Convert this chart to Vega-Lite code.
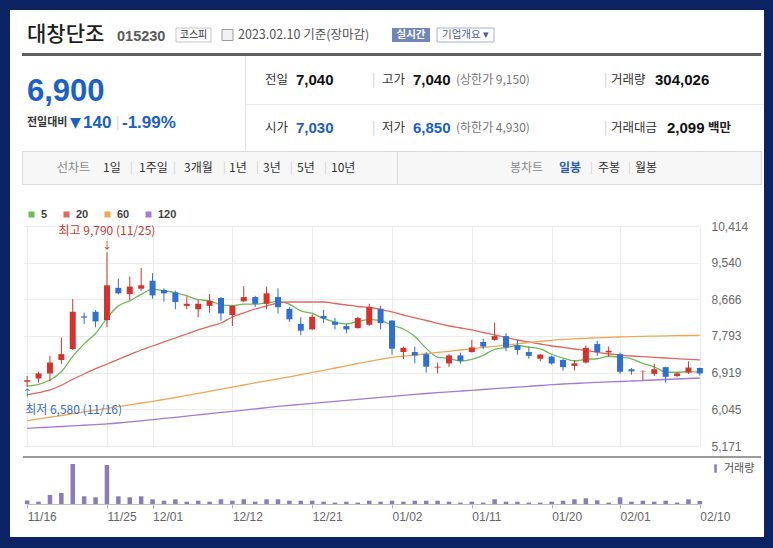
{
"$schema":"https://vega.github.io/schema/vega-lite/v6.json",
"background":"white",
"padding":0,
"config":{"view":{"stroke":null},"text":{"font":"Noto Sans CJK KR"},"axis":{"labelFont":"Liberation Sans"},"legend":{"padding":0}},
"datasets":{"px":[
{"d":"11/16","o":6700,"h":6840,"l":6580,"c":6740,"v":340000,"ma5":6600,"ma20":6394,"ma60":5774,"ma120":5593},
{"d":"11/17","o":6780,"h":6940,"l":6680,"c":6900,"v":240000,"ma5":6642,"ma20":6442,"ma60":5815,"ma120":5607},
{"d":"11/18","o":6900,"h":7320,"l":6710,"c":7160,"v":900000,"ma5":6744,"ma20":6506,"ma60":5858,"ma120":5622},
{"d":"11/21","o":7220,"h":7760,"l":7130,"c":7360,"v":1100000,"ma5":6942,"ma20":6618,"ma60":5898,"ma120":5636},
{"d":"11/22","o":7480,"h":8670,"l":7460,"c":8370,"v":4000000,"ma5":7306,"ma20":6761,"ma60":5941,"ma120":5650},
{"d":"11/23","o":8260,"h":8350,"l":8080,"c":8230,"v":770000,"ma5":7604,"ma20":6887,"ma60":5982,"ma120":5665},
{"d":"11/24","o":8370,"h":8410,"l":8000,"c":8140,"v":670000,"ma5":7852,"ma20":7013,"ma60":6025,"ma120":5679},
{"d":"11/25","o":8170,"h":9790,"l":8010,"c":9000,"v":3900000,"ma5":8220,"ma20":7125,"ma60":6067,"ma120":5696},
{"d":"11/28","o":8940,"h":9160,"l":8790,"c":8810,"v":770000,"ma5":8510,"ma20":7237,"ma60":6110,"ma120":5719},
{"d":"11/29","o":8790,"h":9210,"l":8650,"c":8970,"v":670000,"ma5":8630,"ma20":7347,"ma60":6153,"ma120":5746},
{"d":"11/30","o":8920,"h":9410,"l":8870,"c":9000,"v":770000,"ma5":8784,"ma20":7459,"ma60":6196,"ma120":5772},
{"d":"12/01","o":9110,"h":9290,"l":8680,"c":8760,"v":470000,"ma5":8908,"ma20":7554,"ma60":6237,"ma120":5798},
{"d":"12/02","o":8890,"h":8930,"l":8610,"c":8810,"v":330000,"ma5":8870,"ma20":7650,"ma60":6279,"ma120":5827},
{"d":"12/05","o":8830,"h":8870,"l":8430,"c":8600,"v":470000,"ma5":8828,"ma20":7745,"ma60":6327,"ma120":5855},
{"d":"12/06","o":8510,"h":8730,"l":8430,"c":8560,"v":230000,"ma5":8746,"ma20":7840,"ma60":6375,"ma120":5884},
{"d":"12/07","o":8430,"h":8650,"l":8240,"c":8560,"v":330000,"ma5":8658,"ma20":7936,"ma60":6425,"ma120":5913},
{"d":"12/08","o":8510,"h":8790,"l":8350,"c":8630,"v":230000,"ma5":8632,"ma20":8019,"ma60":6475,"ma120":5941},
{"d":"12/09","o":8700,"h":8720,"l":8160,"c":8330,"v":470000,"ma5":8536,"ma20":8102,"ma60":6525,"ma120":5970},
{"d":"12/12","o":8290,"h":8530,"l":8030,"c":8510,"v":330000,"ma5":8518,"ma20":8245,"ma60":6575,"ma120":5998},
{"d":"12/13","o":8620,"h":8980,"l":8600,"c":8720,"v":470000,"ma5":8550,"ma20":8341,"ma60":6625,"ma120":6027},
{"d":"12/14","o":8720,"h":8750,"l":8480,"c":8560,"v":230000,"ma5":8550,"ma20":8436,"ma60":6675,"ma120":6055},
{"d":"12/15","o":8560,"h":8970,"l":8430,"c":8810,"v":470000,"ma5":8586,"ma20":8508,"ma60":6723,"ma120":6084},
{"d":"12/16","o":8720,"h":8930,"l":8330,"c":8480,"v":470000,"ma5":8616,"ma20":8579,"ma60":6773,"ma120":6113},
{"d":"12/19","o":8440,"h":8480,"l":8130,"c":8190,"v":330000,"ma5":8552,"ma20":8603,"ma60":6820,"ma120":6139},
{"d":"12/20","o":8080,"h":8240,"l":7810,"c":7920,"v":330000,"ma5":8392,"ma20":8603,"ma60":6870,"ma120":6163},
{"d":"12/21","o":7950,"h":8310,"l":7940,"c":8250,"v":330000,"ma5":8330,"ma20":8603,"ma60":6923,"ma120":6187},
{"d":"12/22","o":8270,"h":8410,"l":8100,"c":8210,"v":230000,"ma5":8210,"ma20":8603,"ma60":6975,"ma120":6210},
{"d":"12/23","o":8130,"h":8220,"l":7950,"c":8060,"v":140000,"ma5":8126,"ma20":8567,"ma60":7030,"ma120":6234},
{"d":"12/26","o":8030,"h":8080,"l":7860,"c":7950,"v":230000,"ma5":8078,"ma20":8531,"ma60":7083,"ma120":6258},
{"d":"12/27","o":7980,"h":8250,"l":7970,"c":8220,"v":140000,"ma5":8138,"ma20":8496,"ma60":7137,"ma120":6282},
{"d":"12/28","o":8060,"h":8560,"l":8030,"c":8480,"v":330000,"ma5":8184,"ma20":8472,"ma60":7190,"ma120":6306},
{"d":"12/29","o":8440,"h":8510,"l":7950,"c":8100,"v":230000,"ma5":8162,"ma20":8429,"ma60":7237,"ma120":6330},
{"d":"01/02","o":8160,"h":8170,"l":7350,"c":7490,"v":330000,"ma5":8048,"ma20":8365,"ma60":7285,"ma120":6353},
{"d":"01/03","o":7410,"h":7540,"l":7240,"c":7510,"v":230000,"ma5":7960,"ma20":8293,"ma60":7314,"ma120":6377},
{"d":"01/04","o":7410,"h":7540,"l":7140,"c":7330,"v":330000,"ma5":7782,"ma20":8222,"ma60":7340,"ma120":6401},
{"d":"01/05","o":7360,"h":7410,"l":6920,"c":7060,"v":330000,"ma5":7498,"ma20":8162,"ma60":7369,"ma120":6422},
{"d":"01/06","o":7040,"h":7160,"l":6900,"c":7060,"v":330000,"ma5":7290,"ma20":8091,"ma60":7400,"ma120":6442},
{"d":"01/09","o":7140,"h":7360,"l":7050,"c":7330,"v":230000,"ma5":7258,"ma20":8031,"ma60":7428,"ma120":6461},
{"d":"01/10","o":7330,"h":7400,"l":7130,"c":7200,"v":140000,"ma5":7196,"ma20":7983,"ma60":7459,"ma120":6480},
{"d":"01/11","o":7410,"h":7700,"l":7400,"c":7520,"v":230000,"ma5":7234,"ma20":7936,"ma60":7488,"ma120":6499},
{"d":"01/12","o":7650,"h":7730,"l":7480,"c":7540,"v":140000,"ma5":7330,"ma20":7876,"ma60":7519,"ma120":6518},
{"d":"01/13","o":7700,"h":8110,"l":7680,"c":7790,"v":470000,"ma5":7476,"ma20":7817,"ma60":7547,"ma120":6537},
{"d":"01/16","o":7790,"h":7860,"l":7430,"c":7520,"v":230000,"ma5":7514,"ma20":7757,"ma60":7578,"ma120":6556},
{"d":"01/17","o":7570,"h":7700,"l":7350,"c":7460,"v":230000,"ma5":7566,"ma20":7697,"ma60":7607,"ma120":6575},
{"d":"01/18","o":7410,"h":7540,"l":7250,"c":7320,"v":140000,"ma5":7526,"ma20":7650,"ma60":7638,"ma120":6594},
{"d":"01/19","o":7250,"h":7360,"l":7190,"c":7350,"v":140000,"ma5":7488,"ma20":7602,"ma60":7664,"ma120":6613},
{"d":"01/20","o":7300,"h":7330,"l":7110,"c":7140,"v":230000,"ma5":7358,"ma20":7554,"ma60":7690,"ma120":6632},
{"d":"01/25","o":7220,"h":7250,"l":6970,"c":7050,"v":330000,"ma5":7264,"ma20":7523,"ma60":7709,"ma120":6649},
{"d":"01/26","o":7080,"h":7220,"l":6970,"c":7140,"v":470000,"ma5":7200,"ma20":7483,"ma60":7726,"ma120":6661},
{"d":"01/27","o":7160,"h":7570,"l":7140,"c":7510,"v":570000,"ma5":7238,"ma20":7447,"ma60":7738,"ma120":6673},
{"d":"01/30","o":7600,"h":7680,"l":7320,"c":7410,"v":370000,"ma5":7250,"ma20":7400,"ma60":7750,"ma120":6685},
{"d":"01/31","o":7400,"h":7540,"l":7300,"c":7440,"v":140000,"ma5":7310,"ma20":7364,"ma60":7759,"ma120":6697},
{"d":"02/01","o":7360,"h":7400,"l":6890,"c":6940,"v":670000,"ma5":7288,"ma20":7340,"ma60":7769,"ma120":6708},
{"d":"02/02","o":7000,"h":7030,"l":6870,"c":6950,"v":230000,"ma5":7250,"ma20":7316,"ma60":7776,"ma120":6720},
{"d":"02/03","o":6950,"h":6970,"l":6730,"c":6960,"v":330000,"ma5":7140,"ma20":7299,"ma60":7783,"ma120":6732},
{"d":"02/06","o":6890,"h":7130,"l":6840,"c":7000,"v":230000,"ma5":7058,"ma20":7285,"ma60":7790,"ma120":6744},
{"d":"02/07","o":7050,"h":7060,"l":6680,"c":6820,"v":330000,"ma5":6934,"ma20":7268,"ma60":7795,"ma120":6756},
{"d":"02/08","o":6840,"h":6940,"l":6810,"c":6900,"v":140000,"ma5":6926,"ma20":7252,"ma60":7800,"ma120":6768},
{"d":"02/09","o":6920,"h":7190,"l":6890,"c":7040,"v":470000,"ma5":6944,"ma20":7237,"ma60":7805,"ma120":6780},
{"d":"02/10","o":7030,"h":7040,"l":6850,"c":6900,"v":304026,"ma5":6932,"ma20":7221,"ma60":7809,"ma120":6792}
]},
"spacing":0,
"vconcat":[
{"width":773,"height":10,"data":{"values":[{}]},"mark":{"type":"rect","color":"#0b2263"},"encoding":{}},
{"spacing":0,"hconcat":[
{"width":10,"height":527,"data":{"values":[{}]},"mark":{"type":"rect","color":"#0b2263"},"encoding":{}},
{"spacing":0,"vconcat":[
{"spacing":0,"vconcat":[
{"width":754,"height":11,"data":{"values":[{}]},"mark":{"type":"rect","opacity":0},"encoding":{}},
{"spacing":0,"bounds":"flush","hconcat":[
{"width":17,"height":28,"data":{"values":[{}]},"mark":{"type":"rect","opacity":0},"encoding":{}},
{"width":90,"height":28,"data":{"values":[{"k":"k","t":"대창단조"}]},"mark":{"type":"text","align":"left","fontSize":21,"fontWeight":500,"color":"#1e1e1e"},"encoding":{"x":{"field":"k","type":"nominal","axis":null,"scale":{"type":"band","paddingInner":0,"paddingOuter":0},"bandPosition":0},"text":{"field":"t"}}},
{"width":59,"height":28,"data":{"values":[{"k":"k","t":"015230"}]},"mark":{"type":"text","align":"left","font":"Liberation Sans","fontSize":14.5,"fontWeight":"bold","color":"#5a5a5a","dy":2},"encoding":{"x":{"field":"k","type":"nominal","axis":null,"scale":{"type":"band","paddingInner":0,"paddingOuter":0},"bandPosition":0},"text":{"field":"t"}}},
{"width":35,"height":28,"data":{"values":[{"k":"k","t":"코스피"}]},"layer":[{"mark":{"type":"rect","fill":"#ffffff","stroke":"#c4c4c4","strokeWidth":1},"encoding":{"y":{"field":"k","type":"nominal","axis":null,"scale":{"paddingInner":0,"paddingOuter":0.5}}}},{"mark":{"type":"text","fontSize":10,"color":"#333333"},"encoding":{"text":{"field":"t"}}}]},
{"width":11,"height":28,"data":{"values":[{}]},"mark":{"type":"rect","opacity":0},"encoding":{}},
{"width":11,"height":28,"data":{"values":[{"k":"k"}]},"mark":{"type":"rect","fill":"#f2f2f2","stroke":"#9c9c9c","strokeWidth":1},"encoding":{"y":{"field":"k","type":"nominal","axis":null,"scale":{"paddingInner":0,"paddingOuter":0.77}}}},
{"width":5,"height":28,"data":{"values":[{}]},"mark":{"type":"rect","opacity":0},"encoding":{}},
{"width":154,"height":28,"data":{"values":[{"k":"k","t":"2023.02.10 기준(장마감)"}]},"mark":{"type":"text","align":"left","fontSize":12.5,"color":"#555555"},"encoding":{"x":{"field":"k","type":"nominal","axis":null,"scale":{"type":"band","paddingInner":0,"paddingOuter":0},"bandPosition":0},"text":{"field":"t"}}},
{"width":38,"height":28,"data":{"values":[{"k":"k","t":"실시간"}]},"layer":[{"mark":{"type":"rect","fill":"#7186bf"},"encoding":{"y":{"field":"k","type":"nominal","axis":null,"scale":{"paddingInner":0,"paddingOuter":0.5}}}},{"mark":{"type":"text","fontSize":10.5,"fontWeight":"bold","color":"#ffffff"},"encoding":{"text":{"field":"t"}}}]},
{"width":7,"height":28,"data":{"values":[{}]},"mark":{"type":"rect","opacity":0},"encoding":{}},
{"width":57,"height":28,"data":{"values":[{"k":"k","t":"기업개요 ▾"}]},"layer":[{"mark":{"type":"rect","fill":"#ffffff","stroke":"#a5b0d2","strokeWidth":1},"encoding":{"y":{"field":"k","type":"nominal","axis":null,"scale":{"paddingInner":0,"paddingOuter":0.5}}}},{"mark":{"type":"text","fontSize":10.5,"color":"#4a5b93"},"encoding":{"text":{"field":"t"}}}]}
]},
{"width":754,"height":4,"data":{"values":[{}]},"mark":{"type":"rect","opacity":0},"encoding":{}}
]},
{"spacing":0,"bounds":"flush","hconcat":[
{"width":12,"height":3,"data":{"values":[{}]},"mark":{"type":"rect","opacity":0},"encoding":{}},
{"width":739,"height":3,"data":{"values":[{}]},"mark":{"type":"rect","color":"#5e5e5e"},"encoding":{}}
]},
{"spacing":0,"hconcat":[
{"spacing":0,"vconcat":[
{"width":235,"height":19,"data":{"values":[{}]},"mark":{"type":"rect","opacity":0},"encoding":{}},
{"spacing":0,"bounds":"flush","hconcat":[
{"width":17,"height":34,"data":{"values":[{}]},"mark":{"type":"rect","opacity":0},"encoding":{}},
{"width":218,"height":34,"data":{"values":[{"k":"k","t":"6,900"}]},"mark":{"type":"text","align":"left","font":"Liberation Sans","fontSize":31,"fontWeight":"bold","color":"#1b5fc8"},"encoding":{"x":{"field":"k","type":"nominal","axis":null,"scale":{"type":"band","paddingInner":0,"paddingOuter":0},"bandPosition":0},"text":{"field":"t"}}}
]},
{"spacing":0,"bounds":"flush","hconcat":[
{"width":17,"height":28,"data":{"values":[{}]},"mark":{"type":"rect","opacity":0},"encoding":{}},
{"width":43,"height":28,"data":{"values":[{"k":"k","t":"전일대비"}]},"mark":{"type":"text","align":"left","fontSize":11,"fontWeight":"bold","color":"#333333"},"encoding":{"x":{"field":"k","type":"nominal","axis":null,"scale":{"type":"band","paddingInner":0,"paddingOuter":0},"bandPosition":0},"text":{"field":"t"}}},
{"width":13,"height":28,"data":{"values":[{"k":"k","t":"▼"}]},"mark":{"type":"text","align":"left","font":"DejaVu Sans","fontSize":14,"color":"#1b5fc8"},"encoding":{"x":{"field":"k","type":"nominal","axis":null,"scale":{"type":"band","paddingInner":0,"paddingOuter":0},"bandPosition":0},"text":{"field":"t"}}},
{"width":33,"height":28,"data":{"values":[{"k":"k","t":"140"}]},"mark":{"type":"text","align":"left","font":"Liberation Sans","fontSize":17,"fontWeight":"bold","color":"#1b5fc8"},"encoding":{"x":{"field":"k","type":"nominal","axis":null,"scale":{"type":"band","paddingInner":0,"paddingOuter":0},"bandPosition":0},"text":{"field":"t"}}},
{"width":6,"height":28,"data":{"values":[{"k":"k","t":"|"}]},"mark":{"type":"text","align":"left","fontSize":13,"color":"#d0d0d0"},"encoding":{"x":{"field":"k","type":"nominal","axis":null,"scale":{"type":"band","paddingInner":0,"paddingOuter":0},"bandPosition":0},"text":{"field":"t"}}},
{"width":123,"height":28,"data":{"values":[{"k":"k","t":"-1.99%"}]},"mark":{"type":"text","align":"left","font":"Liberation Sans","fontSize":17,"fontWeight":"bold","color":"#1b5fc8"},"encoding":{"x":{"field":"k","type":"nominal","axis":null,"scale":{"type":"band","paddingInner":0,"paddingOuter":0},"bandPosition":0},"text":{"field":"t"}}}
]},
{"width":235,"height":14,"data":{"values":[{}]},"mark":{"type":"rect","opacity":0},"encoding":{}}
]},
{"width":1,"height":95,"data":{"values":[{}]},"mark":{"type":"rect","color":"#e4e4e4"},"encoding":{}},
{"spacing":0,"vconcat":[
{"spacing":0,"bounds":"flush","hconcat":[
{"width":19,"height":48,"data":{"values":[{}]},"mark":{"type":"rect","opacity":0},"encoding":{}},
{"width":31,"height":48,"data":{"values":[{"k":"k","t":"전일"}]},"mark":{"type":"text","align":"left","fontSize":12.5,"color":"#333333"},"encoding":{"x":{"field":"k","type":"nominal","axis":null,"scale":{"type":"band","paddingInner":0,"paddingOuter":0},"bandPosition":0},"text":{"field":"t"}}},
{"width":76,"height":48,"data":{"values":[{"k":"k","t":"7,040"}]},"mark":{"type":"text","align":"left","font":"Liberation Sans","fontSize":15,"fontWeight":"bold","color":"#111111"},"encoding":{"x":{"field":"k","type":"nominal","axis":null,"scale":{"type":"band","paddingInner":0,"paddingOuter":0},"bandPosition":0},"text":{"field":"t"}}},
{"width":10,"height":48,"data":{"values":[{"k":"k","t":"|"}]},"mark":{"type":"text","align":"left","fontSize":13,"color":"#d5d5d5"},"encoding":{"x":{"field":"k","type":"nominal","axis":null,"scale":{"type":"band","paddingInner":0,"paddingOuter":0},"bandPosition":0},"text":{"field":"t"}}},
{"width":31,"height":48,"data":{"values":[{"k":"k","t":"고가"}]},"mark":{"type":"text","align":"left","fontSize":12.5,"color":"#333333"},"encoding":{"x":{"field":"k","type":"nominal","axis":null,"scale":{"type":"band","paddingInner":0,"paddingOuter":0},"bandPosition":0},"text":{"field":"t"}}},
{"width":43,"height":48,"data":{"values":[{"k":"k","t":"7,040"}]},"mark":{"type":"text","align":"left","font":"Liberation Sans","fontSize":15,"fontWeight":"bold","color":"#111111"},"encoding":{"x":{"field":"k","type":"nominal","axis":null,"scale":{"type":"band","paddingInner":0,"paddingOuter":0},"bandPosition":0},"text":{"field":"t"}}},
{"width":148,"height":48,"data":{"values":[{"k":"k","t":"(상한가 9,150)"}]},"mark":{"type":"text","align":"left","fontSize":12,"color":"#777777"},"encoding":{"x":{"field":"k","type":"nominal","axis":null,"scale":{"type":"band","paddingInner":0,"paddingOuter":0},"bandPosition":0},"text":{"field":"t"}}},
{"width":7,"height":48,"data":{"values":[{"k":"k","t":"|"}]},"mark":{"type":"text","align":"left","fontSize":13,"color":"#d5d5d5"},"encoding":{"x":{"field":"k","type":"nominal","axis":null,"scale":{"type":"band","paddingInner":0,"paddingOuter":0},"bandPosition":0},"text":{"field":"t"}}},
{"width":44,"height":48,"data":{"values":[{"k":"k","t":"거래량"}]},"mark":{"type":"text","align":"left","fontSize":12.5,"color":"#333333"},"encoding":{"x":{"field":"k","type":"nominal","axis":null,"scale":{"type":"band","paddingInner":0,"paddingOuter":0},"bandPosition":0},"text":{"field":"t"}}},
{"width":109,"height":48,"data":{"values":[{"k":"k","t":"304,026"}]},"mark":{"type":"text","align":"left","font":"Liberation Sans","fontSize":15,"fontWeight":"bold","color":"#111111"},"encoding":{"x":{"field":"k","type":"nominal","axis":null,"scale":{"type":"band","paddingInner":0,"paddingOuter":0},"bandPosition":0},"text":{"field":"t"}}}
]},
{"width":518,"height":1,"data":{"values":[{}]},"mark":{"type":"rect","color":"#ebebeb"},"encoding":{}},
{"spacing":0,"bounds":"flush","hconcat":[
{"width":19,"height":46,"data":{"values":[{}]},"mark":{"type":"rect","opacity":0},"encoding":{}},
{"width":31,"height":46,"data":{"values":[{"k":"k","t":"시가"}]},"mark":{"type":"text","align":"left","fontSize":12.5,"color":"#333333"},"encoding":{"x":{"field":"k","type":"nominal","axis":null,"scale":{"type":"band","paddingInner":0,"paddingOuter":0},"bandPosition":0},"text":{"field":"t"}}},
{"width":76,"height":46,"data":{"values":[{"k":"k","t":"7,030"}]},"mark":{"type":"text","align":"left","font":"Liberation Sans","fontSize":15,"fontWeight":"bold","color":"#1b5fc8"},"encoding":{"x":{"field":"k","type":"nominal","axis":null,"scale":{"type":"band","paddingInner":0,"paddingOuter":0},"bandPosition":0},"text":{"field":"t"}}},
{"width":10,"height":46,"data":{"values":[{"k":"k","t":"|"}]},"mark":{"type":"text","align":"left","fontSize":13,"color":"#d5d5d5"},"encoding":{"x":{"field":"k","type":"nominal","axis":null,"scale":{"type":"band","paddingInner":0,"paddingOuter":0},"bandPosition":0},"text":{"field":"t"}}},
{"width":31,"height":46,"data":{"values":[{"k":"k","t":"저가"}]},"mark":{"type":"text","align":"left","fontSize":12.5,"color":"#333333"},"encoding":{"x":{"field":"k","type":"nominal","axis":null,"scale":{"type":"band","paddingInner":0,"paddingOuter":0},"bandPosition":0},"text":{"field":"t"}}},
{"width":43,"height":46,"data":{"values":[{"k":"k","t":"6,850"}]},"mark":{"type":"text","align":"left","font":"Liberation Sans","fontSize":15,"fontWeight":"bold","color":"#1b5fc8"},"encoding":{"x":{"field":"k","type":"nominal","axis":null,"scale":{"type":"band","paddingInner":0,"paddingOuter":0},"bandPosition":0},"text":{"field":"t"}}},
{"width":148,"height":46,"data":{"values":[{"k":"k","t":"(하한가 4,930)"}]},"mark":{"type":"text","align":"left","fontSize":12,"color":"#777777"},"encoding":{"x":{"field":"k","type":"nominal","axis":null,"scale":{"type":"band","paddingInner":0,"paddingOuter":0},"bandPosition":0},"text":{"field":"t"}}},
{"width":7,"height":46,"data":{"values":[{"k":"k","t":"|"}]},"mark":{"type":"text","align":"left","fontSize":13,"color":"#d5d5d5"},"encoding":{"x":{"field":"k","type":"nominal","axis":null,"scale":{"type":"band","paddingInner":0,"paddingOuter":0},"bandPosition":0},"text":{"field":"t"}}},
{"width":56,"height":46,"data":{"values":[{"k":"k","t":"거래대금"}]},"mark":{"type":"text","align":"left","fontSize":12.5,"color":"#333333"},"encoding":{"x":{"field":"k","type":"nominal","axis":null,"scale":{"type":"band","paddingInner":0,"paddingOuter":0},"bandPosition":0},"text":{"field":"t"}}},
{"width":41,"height":46,"data":{"values":[{"k":"k","t":"2,099"}]},"mark":{"type":"text","align":"left","font":"Liberation Sans","fontSize":15,"fontWeight":"bold","color":"#111111"},"encoding":{"x":{"field":"k","type":"nominal","axis":null,"scale":{"type":"band","paddingInner":0,"paddingOuter":0},"bandPosition":0},"text":{"field":"t"}}},
{"width":56,"height":46,"data":{"values":[{"k":"k","t":"백만"}]},"mark":{"type":"text","align":"left","fontSize":12.5,"fontWeight":"bold","color":"#222222"},"encoding":{"x":{"field":"k","type":"nominal","axis":null,"scale":{"type":"band","paddingInner":0,"paddingOuter":0},"bandPosition":0},"text":{"field":"t"}}}
]}
]}
]},
{"spacing":0,"vconcat":[
{"spacing":0,"bounds":"flush","hconcat":[
{"width":12,"height":1,"data":{"values":[{}]},"mark":{"type":"rect","opacity":0},"encoding":{}},
{"width":740,"height":1,"data":{"values":[{}]},"mark":{"type":"rect","color":"#dadada"},"encoding":{}}
]},
{"spacing":0,"bounds":"flush","hconcat":[
{"width":12,"height":32,"data":{"values":[{}]},"mark":{"type":"rect","opacity":0},"encoding":{}},
{"width":1,"height":32,"data":{"values":[{}]},"mark":{"type":"rect","color":"#dadada"},"encoding":{}},
{"width":34,"height":32,"data":{"values":[{}]},"mark":{"type":"rect","color":"#f7f7f7"},"encoding":{}},
{"width":46,"height":32,"view":{"fill":"#f7f7f7"},"data":{"values":[{"k":"k","t":"선차트"}]},"mark":{"type":"text","align":"left","fontSize":12,"color":"#8a8a8a"},"encoding":{"x":{"field":"k","type":"nominal","axis":null,"scale":{"type":"band","paddingInner":0,"paddingOuter":0},"bandPosition":0},"text":{"field":"t"}}},
{"width":27,"height":32,"view":{"fill":"#f7f7f7"},"data":{"values":[{"k":"k","t":"1일"}]},"mark":{"type":"text","align":"left","fontSize":12,"color":"#333333"},"encoding":{"x":{"field":"k","type":"nominal","axis":null,"scale":{"type":"band","paddingInner":0,"paddingOuter":0},"bandPosition":0},"text":{"field":"t"}}},
{"width":9,"height":32,"view":{"fill":"#f7f7f7"},"data":{"values":[{"k":"k","t":"|"}]},"mark":{"type":"text","align":"left","fontSize":11,"color":"#cfcfcf"},"encoding":{"x":{"field":"k","type":"nominal","axis":null,"scale":{"type":"band","paddingInner":0,"paddingOuter":0},"bandPosition":0},"text":{"field":"t"}}},
{"width":34,"height":32,"view":{"fill":"#f7f7f7"},"data":{"values":[{"k":"k","t":"1주일"}]},"mark":{"type":"text","align":"left","fontSize":12,"color":"#333333"},"encoding":{"x":{"field":"k","type":"nominal","axis":null,"scale":{"type":"band","paddingInner":0,"paddingOuter":0},"bandPosition":0},"text":{"field":"t"}}},
{"width":11,"height":32,"view":{"fill":"#f7f7f7"},"data":{"values":[{"k":"k","t":"|"}]},"mark":{"type":"text","align":"left","fontSize":11,"color":"#cfcfcf"},"encoding":{"x":{"field":"k","type":"nominal","axis":null,"scale":{"type":"band","paddingInner":0,"paddingOuter":0},"bandPosition":0},"text":{"field":"t"}}},
{"width":39,"height":32,"view":{"fill":"#f7f7f7"},"data":{"values":[{"k":"k","t":"3개월"}]},"mark":{"type":"text","align":"left","fontSize":12,"color":"#333333"},"encoding":{"x":{"field":"k","type":"nominal","axis":null,"scale":{"type":"band","paddingInner":0,"paddingOuter":0},"bandPosition":0},"text":{"field":"t"}}},
{"width":6,"height":32,"view":{"fill":"#f7f7f7"},"data":{"values":[{"k":"k","t":"|"}]},"mark":{"type":"text","align":"left","fontSize":11,"color":"#cfcfcf"},"encoding":{"x":{"field":"k","type":"nominal","axis":null,"scale":{"type":"band","paddingInner":0,"paddingOuter":0},"bandPosition":0},"text":{"field":"t"}}},
{"width":27,"height":32,"view":{"fill":"#f7f7f7"},"data":{"values":[{"k":"k","t":"1년"}]},"mark":{"type":"text","align":"left","fontSize":12,"color":"#333333"},"encoding":{"x":{"field":"k","type":"nominal","axis":null,"scale":{"type":"band","paddingInner":0,"paddingOuter":0},"bandPosition":0},"text":{"field":"t"}}},
{"width":7,"height":32,"view":{"fill":"#f7f7f7"},"data":{"values":[{"k":"k","t":"|"}]},"mark":{"type":"text","align":"left","fontSize":11,"color":"#cfcfcf"},"encoding":{"x":{"field":"k","type":"nominal","axis":null,"scale":{"type":"band","paddingInner":0,"paddingOuter":0},"bandPosition":0},"text":{"field":"t"}}},
{"width":27,"height":32,"view":{"fill":"#f7f7f7"},"data":{"values":[{"k":"k","t":"3년"}]},"mark":{"type":"text","align":"left","fontSize":12,"color":"#333333"},"encoding":{"x":{"field":"k","type":"nominal","axis":null,"scale":{"type":"band","paddingInner":0,"paddingOuter":0},"bandPosition":0},"text":{"field":"t"}}},
{"width":7,"height":32,"view":{"fill":"#f7f7f7"},"data":{"values":[{"k":"k","t":"|"}]},"mark":{"type":"text","align":"left","fontSize":11,"color":"#cfcfcf"},"encoding":{"x":{"field":"k","type":"nominal","axis":null,"scale":{"type":"band","paddingInner":0,"paddingOuter":0},"bandPosition":0},"text":{"field":"t"}}},
{"width":27,"height":32,"view":{"fill":"#f7f7f7"},"data":{"values":[{"k":"k","t":"5년"}]},"mark":{"type":"text","align":"left","fontSize":12,"color":"#333333"},"encoding":{"x":{"field":"k","type":"nominal","axis":null,"scale":{"type":"band","paddingInner":0,"paddingOuter":0},"bandPosition":0},"text":{"field":"t"}}},
{"width":7,"height":32,"view":{"fill":"#f7f7f7"},"data":{"values":[{"k":"k","t":"|"}]},"mark":{"type":"text","align":"left","fontSize":11,"color":"#cfcfcf"},"encoding":{"x":{"field":"k","type":"nominal","axis":null,"scale":{"type":"band","paddingInner":0,"paddingOuter":0},"bandPosition":0},"text":{"field":"t"}}},
{"width":66,"height":32,"view":{"fill":"#f7f7f7"},"data":{"values":[{"k":"k","t":"10년"}]},"mark":{"type":"text","align":"left","fontSize":12,"color":"#333333"},"encoding":{"x":{"field":"k","type":"nominal","axis":null,"scale":{"type":"band","paddingInner":0,"paddingOuter":0},"bandPosition":0},"text":{"field":"t"}}},
{"width":1,"height":32,"data":{"values":[{}]},"mark":{"type":"rect","color":"#dadada"},"encoding":{}},
{"width":112,"height":32,"data":{"values":[{}]},"mark":{"type":"rect","color":"#f7f7f7"},"encoding":{}},
{"width":49,"height":32,"view":{"fill":"#f7f7f7"},"data":{"values":[{"k":"k","t":"봉차트"}]},"mark":{"type":"text","align":"left","fontSize":12,"color":"#8a8a8a"},"encoding":{"x":{"field":"k","type":"nominal","axis":null,"scale":{"type":"band","paddingInner":0,"paddingOuter":0},"bandPosition":0},"text":{"field":"t"}}},
{"width":31,"height":32,"view":{"fill":"#f7f7f7"},"data":{"values":[{"k":"k","t":"일봉"}]},"mark":{"type":"text","align":"left","fontSize":12,"fontWeight":"bold","color":"#2b5cb8"},"encoding":{"x":{"field":"k","type":"nominal","axis":null,"scale":{"type":"band","paddingInner":0,"paddingOuter":0},"bandPosition":0},"text":{"field":"t"}}},
{"width":8,"height":32,"view":{"fill":"#f7f7f7"},"data":{"values":[{"k":"k","t":"|"}]},"mark":{"type":"text","align":"left","fontSize":11,"color":"#cfcfcf"},"encoding":{"x":{"field":"k","type":"nominal","axis":null,"scale":{"type":"band","paddingInner":0,"paddingOuter":0},"bandPosition":0},"text":{"field":"t"}}},
{"width":30,"height":32,"view":{"fill":"#f7f7f7"},"data":{"values":[{"k":"k","t":"주봉"}]},"mark":{"type":"text","align":"left","fontSize":12,"color":"#333333"},"encoding":{"x":{"field":"k","type":"nominal","axis":null,"scale":{"type":"band","paddingInner":0,"paddingOuter":0},"bandPosition":0},"text":{"field":"t"}}},
{"width":7,"height":32,"view":{"fill":"#f7f7f7"},"data":{"values":[{"k":"k","t":"|"}]},"mark":{"type":"text","align":"left","fontSize":11,"color":"#cfcfcf"},"encoding":{"x":{"field":"k","type":"nominal","axis":null,"scale":{"type":"band","paddingInner":0,"paddingOuter":0},"bandPosition":0},"text":{"field":"t"}}},
{"width":126,"height":32,"view":{"fill":"#f7f7f7"},"data":{"values":[{"k":"k","t":"월봉"}]},"mark":{"type":"text","align":"left","fontSize":12,"color":"#333333"},"encoding":{"x":{"field":"k","type":"nominal","axis":null,"scale":{"type":"band","paddingInner":0,"paddingOuter":0},"bandPosition":0},"text":{"field":"t"}}},
{"width":1,"height":32,"data":{"values":[{}]},"mark":{"type":"rect","color":"#dadada"},"encoding":{}}
]},
{"spacing":0,"bounds":"flush","hconcat":[
{"width":12,"height":1,"data":{"values":[{}]},"mark":{"type":"rect","opacity":0},"encoding":{}},
{"width":740,"height":1,"data":{"values":[{}]},"mark":{"type":"rect","color":"#dadada"},"encoding":{}}
]}
]},
{"spacing":0,"hconcat":[
{"width":12,"height":352,"data":{"values":[{}]},"mark":{"type":"rect","opacity":0},"encoding":{}},
{"spacing":0,"bounds":"flush","resolve":{"scale":{"color":"independent"},"legend":{"color":"independent"}},"vconcat":[
{"width":678,"height":41,"data":{"values":[{}]},"mark":{"type":"rect","opacity":0},"encoding":{}},
{"width":678,"height":220,"data":{"name":"px"},
 "encoding":{"x":{"field":"d","type":"ordinal","scale":{"type":"point","padding":0.1,"range":[3,678],"domain":["11/16","11/17","11/18","11/21","11/22","11/23","11/24","11/25","11/28","11/29","11/30","12/01","12/02","12/05","12/06","12/07","12/08","12/09","12/12","12/13","12/14","12/15","12/16","12/19","12/20","12/21","12/22","12/23","12/26","12/27","12/28","12/29","01/02","01/03","01/04","01/05","01/06","01/09","01/10","01/11","01/12","01/13","01/16","01/17","01/18","01/19","01/20","01/25","01/26","01/27","01/30","01/31","02/01","02/02","02/03","02/06","02/07","02/08","02/09","02/10"]},"axis":{"values":["11/16","11/25","12/01","12/12","12/21","01/02","01/11","01/20","02/01","02/10"],"labels":false,"ticks":false,"domain":false,"grid":true,"gridColor":"#ececec","title":null}}},
 "layer":[
  {"transform":[{"fold":["ma5","ma20","ma60","ma120"],"as":["n","val"]}],
   "mark":{"type":"line","strokeWidth":1.3,"interpolate":"monotone"},
   "encoding":{
     "y":{"field":"val","type":"quantitative","scale":{"domain":[5171,10414],"nice":false,"zero":false},"axis":{"orient":"right","values":[5171,6045,6919,7793,8666,9540,10414],"tickCount":20,"format":",d","labelOverlap":false,"labelPadding":10,"ticks":false,"domain":false,"grid":true,"gridColor":"#ececec","labelColor":"#6a6a6a","labelFontSize":12,"title":null}},
     "color":{"field":"n","type":"nominal","scale":{"domain":["ma5","ma20","ma60","ma120"],"range":["#6cbd55","#e4665f","#f2a654","#a47ad6"]},"legend":{"orient":"none","legendX":3,"legendY":-17,"direction":"horizontal","title":null,"symbolType":"square","symbolSize":9,"symbolStrokeWidth":3,"labelFontSize":11,"labelFont":"Liberation Sans","labelFontWeight":"bold","labelColor":"#444444","columnPadding":11,"labelOffset":4,"labelExpr":"replace(datum.label, 'ma', '')"}},
     "order":{"value":null}}},
  {"mark":{"type":"rule","strokeWidth":1},
   "encoding":{"y":{"field":"l","type":"quantitative","scale":{"domain":[5171,10414],"nice":false,"zero":false}},"y2":{"field":"h"},
     "color":{"condition":{"test":"datum.c > datum.o","value":"#d6312b"},"value":"#2f6fd1"}}},
  {"mark":{"type":"bar","size":6},
   "encoding":{"y":{"field":"o","type":"quantitative","scale":{"domain":[5171,10414],"nice":false,"zero":false}},"y2":{"field":"c"},
     "color":{"condition":{"test":"datum.c > datum.o","value":"#d6312b"},"value":"#2f6fd1"}}},
  {"data":{"values":[{"d":"11/25","p":9790,"t":"최고 9,790 (11/25)","a":"↓"}]},
   "layer":[
    {"mark":{"type":"text","dy":-21,"fontSize":12,"color":"#cc3a35"},"encoding":{"y":{"field":"p","type":"quantitative","scale":{"domain":[5171,10414],"nice":false,"zero":false}},"text":{"field":"t"}}},
    {"mark":{"type":"text","dy":-6,"fontSize":10,"color":"#cc3a35"},"encoding":{"y":{"field":"p","type":"quantitative","scale":{"domain":[5171,10414],"nice":false,"zero":false}},"text":{"field":"a"}}}
   ]},
  {"data":{"values":[{"d":"11/16","p":6580,"t":"최저 6,580 (11/16)","a":"↑"}]},
   "layer":[
    {"mark":{"type":"text","align":"left","dx":-2,"dy":23,"fontSize":12,"color":"#3570c6"},"encoding":{"y":{"field":"p","type":"quantitative","scale":{"domain":[5171,10414],"nice":false,"zero":false}},"text":{"field":"t"}}},
    {"mark":{"type":"text","dy":7,"fontSize":10,"color":"#3570c6"},"encoding":{"y":{"field":"p","type":"quantitative","scale":{"domain":[5171,10414],"nice":false,"zero":false}},"text":{"field":"a"}}}
   ]}
 ]},
{"width":678,"height":11,"data":{"values":[{}]},"mark":{"type":"rect","opacity":0},"encoding":{}},
{"width":738,"height":47,"data":{"name":"px"},
 "layer":[
  {"mark":{"type":"bar","size":4.5},
   "encoding":{
    "x":{"field":"d","type":"ordinal","scale":{"type":"point","padding":0.1,"range":[3,678],"domain":["11/16","11/17","11/18","11/21","11/22","11/23","11/24","11/25","11/28","11/29","11/30","12/01","12/02","12/05","12/06","12/07","12/08","12/09","12/12","12/13","12/14","12/15","12/16","12/19","12/20","12/21","12/22","12/23","12/26","12/27","12/28","12/29","01/02","01/03","01/04","01/05","01/06","01/09","01/10","01/11","01/12","01/13","01/16","01/17","01/18","01/19","01/20","01/25","01/26","01/27","01/30","01/31","02/01","02/02","02/03","02/06","02/07","02/08","02/09","02/10"]},"axis":{"values":["11/16","11/25","12/01","12/12","12/21","01/02","01/11","01/20","02/01","02/10"],"labelAlign":"left","labelAngle":0,"labelOverlap":false,"labelPadding":3,"tickSize":4,"tickColor":"#b0b0b0","domainColor":"#c0c0c0","labelColor":"#666666","labelFontSize":12,"grid":false,"title":null}},
    "y":{"field":"v","type":"quantitative","scale":{"domain":[0,4700000],"nice":false},"axis":null},
    "color":{"datum":"거래량","type":"nominal","scale":{"range":["#8a7bbb"]},"legend":{"orient":"top-right","offset":6,"title":null,"symbolType":"M-0.3,-1H0.3V1H-0.3Z","symbolSize":70,"labelFont":"Noto Sans CJK KR","labelFontSize":11,"labelColor":"#555555","labelOffset":3}}}},
  {"mark":{"type":"rule","color":"#9a9a9a"},"encoding":{"y":{"datum":4700000,"type":"quantitative"}}}
 ]},
{"width":738,"height":33,"data":{"values":[{}]},"mark":{"type":"rect","opacity":0},"encoding":{}}
]}
]}
]},
{"width":9,"height":527,"data":{"values":[{}]},"mark":{"type":"rect","color":"#0b2263"},"encoding":{}}
]},
{"width":773,"height":11,"data":{"values":[{}]},"mark":{"type":"rect","color":"#0b2263"},"encoding":{}}
]
}
